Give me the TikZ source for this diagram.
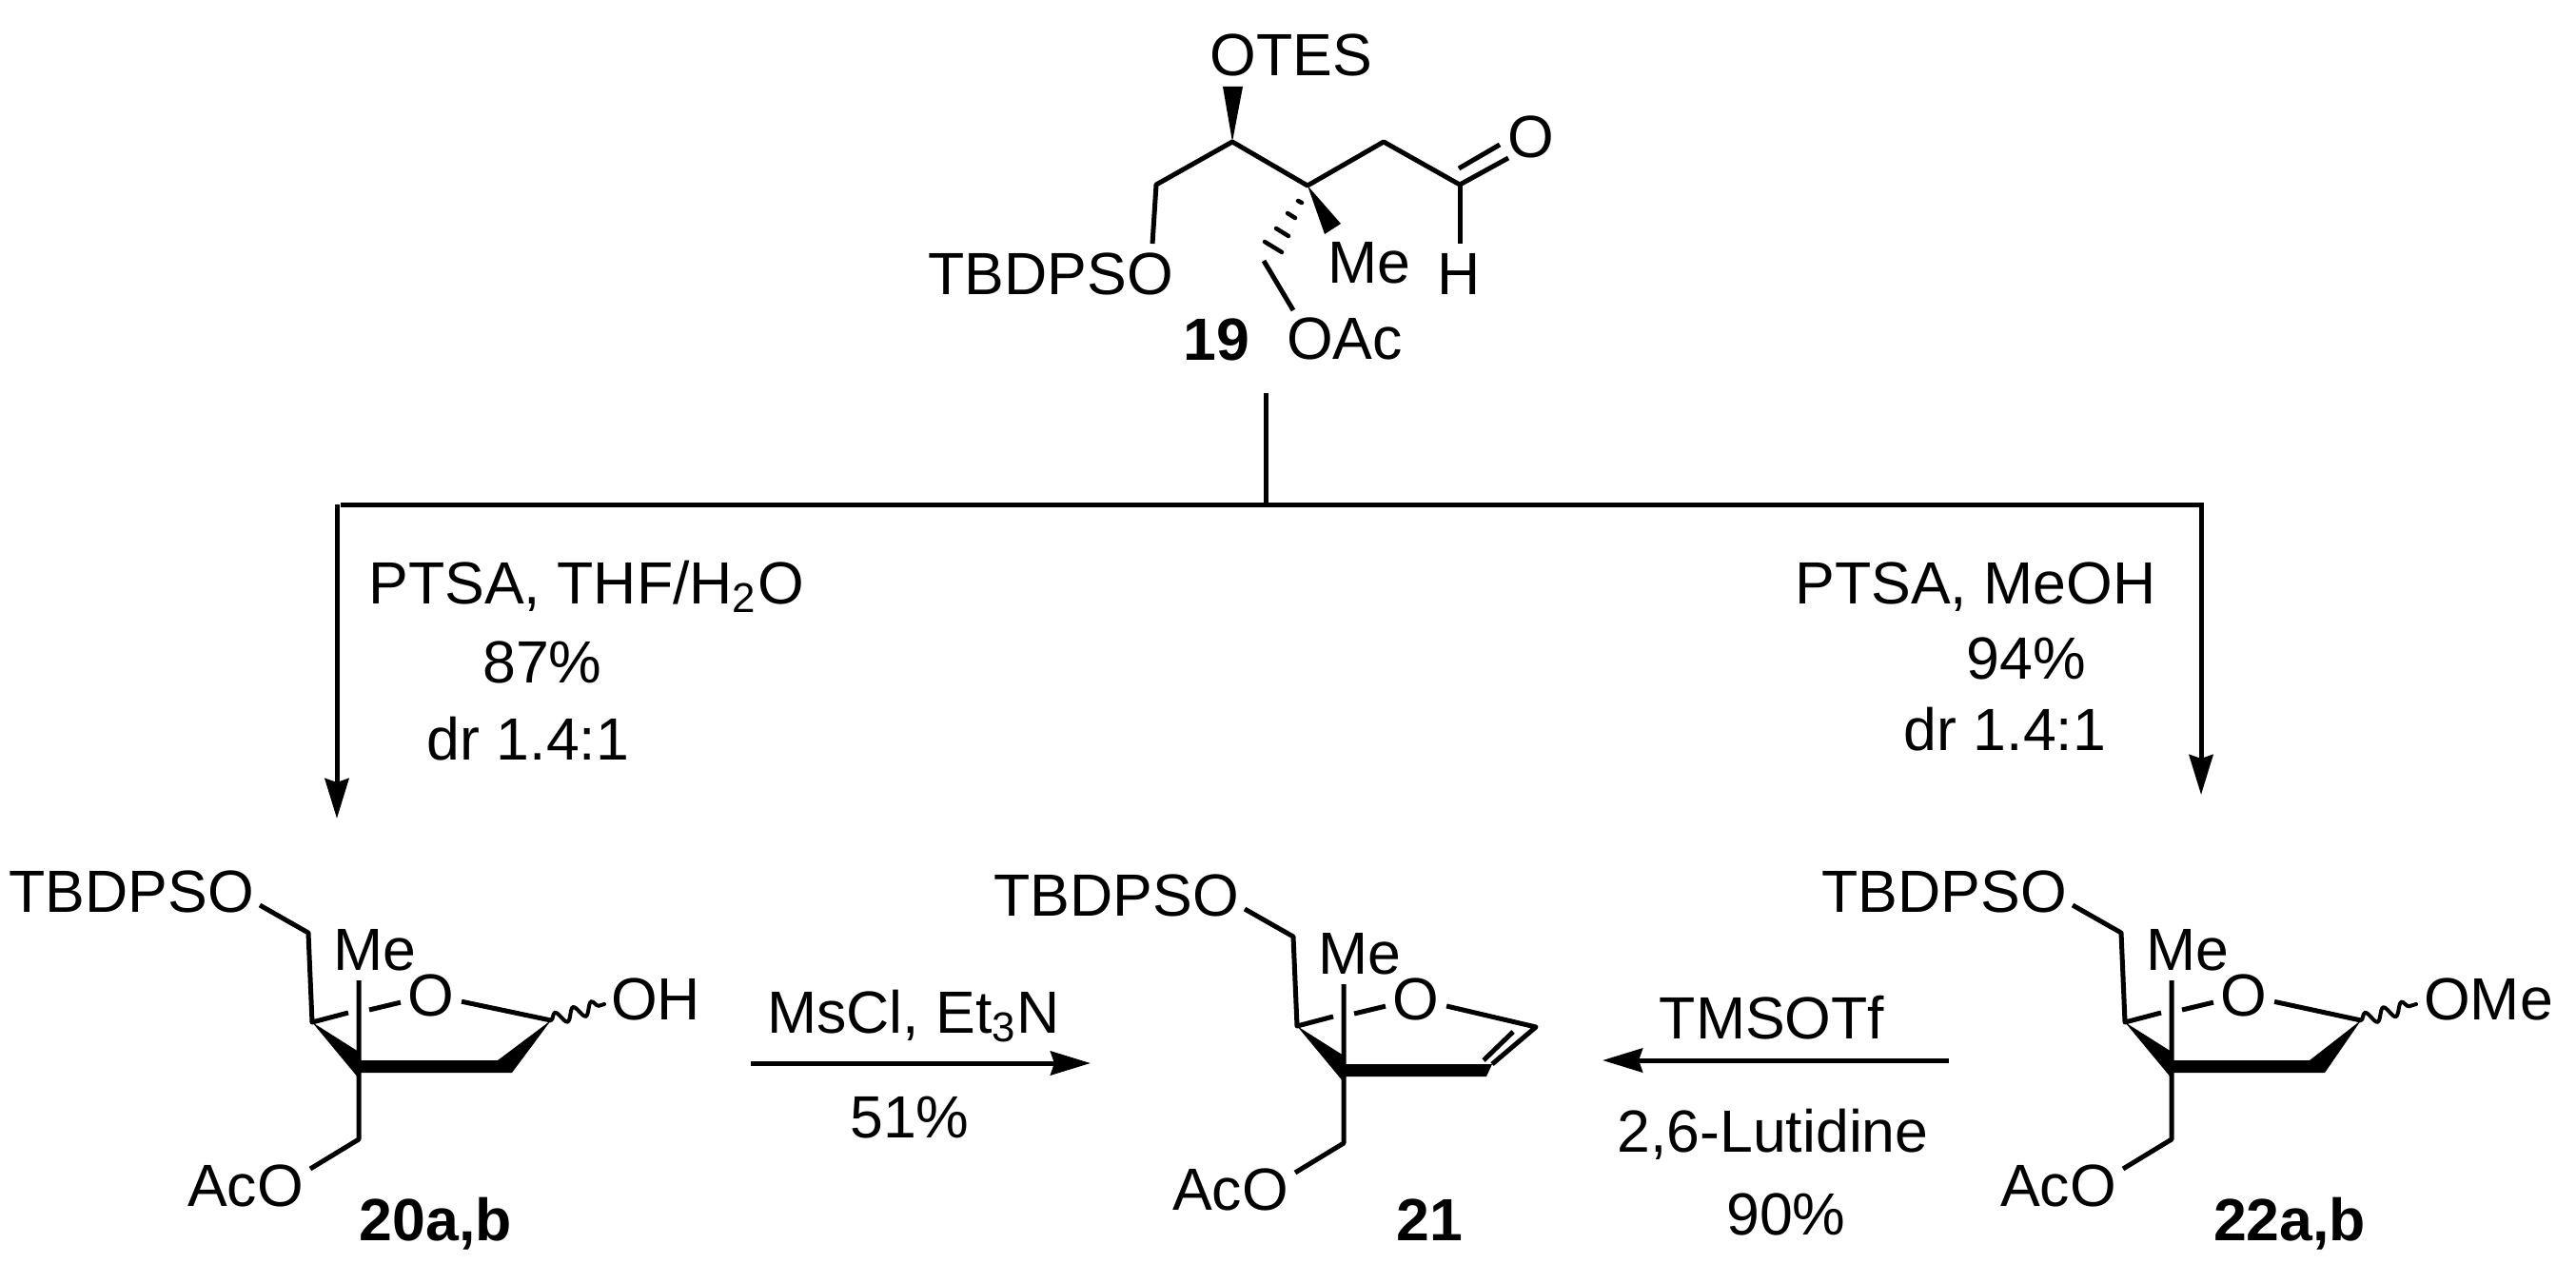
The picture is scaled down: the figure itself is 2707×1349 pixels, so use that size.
\documentclass[tikz,border=0pt]{standalone}
\usepackage{fontspec}
\setmainfont{Liberation Sans}
\usetikzlibrary{arrows.meta,decorations.pathmorphing}

% tetrahydrofuran part shared by the three products
\newcommand{\sugar}[2]{%
\begin{scope}[shift={#1}, name prefix=#2-]
\node (si)  [atom] at (-239,-169) {TBDPSO};
\node (me)  [atom] at (17,-108)   {Me};
\node (o)   [atom] at (76,-60)    {O};
\node (aco) [atom] at (-119,140)  {AcO};
\coordinate (qc)  at (0,0);
\coordinate (sie) at (-104,-176);
\coordinate (c5)  at (-53,-147);
\coordinate (cl)  at (-49,-53);
\coordinate (g1)  at (-11,-63);
\coordinate (g2)  at (11,-66);
\coordinate (met) at (0,-97);
\coordinate (c6)  at (0,70);
\coordinate (ace) at (-51,101);
\coordinate (wt)  at (0,-22);
\coordinate (wb)  at (0,6);
\draw[bond] (sie) -- (c5) -- (cl) -- (g1);
\draw[bond] (g2) -- (o);
\draw[bond] (met) -- (c6) -- (ace);
\fill (cl) -- (wt) -- (wb) -- cycle;
\end{scope}}

\begin{document}
\begin{tikzpicture}[
     x=0.01cm, y=-0.01cm,
every node/.style = {font=\fontsize{17.8}{20}\selectfont},
      atom/.style = {anchor=base, inner sep=0.07cm},
       cpd/.style = {anchor=base, inner sep=0pt, font=\fontsize{17.8}{20}\selectfont\bfseries},
      cond/.style = {anchor=base, inner sep=0pt},
      bond/.style = {line width=0.05cm, line join=round},
       rxn/.style = {line width=0.05cm, -{Stealth[length=0.42cm,width=0.25cm,inset=0.04cm]}},
      wavy/.style = {line width=0.04cm, line cap=round, decorate, decoration={snake, amplitude=0.065cm, segment length=0.2cm}}
                        ]
\useasboundingbox (0,0) rectangle (2707,1349);

% aldehyde 19
\node (otes) [atom] at (1357,80)  {OTES};
\node (si)   [atom] at (1104,310) {TBDPSO};
\node (ome)  [atom] at (1439,298) {Me};
\node (ald)  [atom] at (1609,166) {O};
\node (h)    [atom] at (1533,310) {H};
\node (oac)  [atom] at (1413,377) {OAc};
\node (n19)  [cpd] at (1278,378) {19};
\coordinate (c4)  at (1295,149);
\coordinate (c5)  at (1215,194);
\coordinate (sie) at (1211,256);
\coordinate (c3)  at (1374,195);
\coordinate (c2)  at (1454,149);
\coordinate (c1)  at (1534,194);
\coordinate (oe)  at (1585,166);
\coordinate (di1) at (1533,177);
\coordinate (di2) at (1576,152);
\coordinate (he)  at (1534,256);
\coordinate (ch1) at (1328,274);
\coordinate (ch2) at (1359,326);
\coordinate (w1)  at (1285,91);
\coordinate (w2)  at (1306,91);
\coordinate (w3)  at (1392,246);
\coordinate (w4)  at (1409,235);
\draw[bond] (sie) -- (c5) -- (c4) -- (c3) -- (c2) -- (c1) -- (oe);
\draw[bond] (di1) -- (di2);
\draw[bond] (c1) -- (he);
\draw[bond] (ch1) -- (ch2);
\fill (c4) -- (w1) -- (w2) -- cycle;
\fill (c3) -- (w3) -- (w4) -- cycle;
\foreach \a/\b/\c/\d in {1329/254/1347/265, 1341/240/1354/248, 1353/224/1361/229, 1364/211/1368/213}
  \draw[line width=0.045cm, line cap=round] (\a,\b) -- (\c,\d);

% split into two routes
\coordinate (ttop)  at (1330,413);
\coordinate (tmid)  at (1330,530);
\coordinate (tleft) at (358,530);
\coordinate (tdown) at (354,530);
\coordinate (tright) at (2313,530);
\coordinate (a20)  at (354,860);
\coordinate (a22)  at (2313,835);
\draw[bond] (ttop) -- (tmid);
\draw[bond] (tmid) -- (tleft);
\draw[rxn] (tdown) -- (a20);
\draw[rxn] (tmid) -- (tright) -- (a22);
\node (c1a) [cond] at (616,634)  {PTSA, THF/H\textsubscript{2}O};
\node (c1b) [cond] at (570,717)  {87\%};
\node (c1c) [cond] at (555,798)  {dr 1.4:1};
\node (c2a) [cond] at (2076,634) {PTSA, MeOH};
\node (c2b) [cond] at (2129,713) {94\%};
\node (c2c) [cond] at (2107,788) {dr 1.4:1};

% lactols 20a,b
\sugar{(377,1127)}{a}
\node (oh)  [atom] at (689,1071) {OH};
\node (n20) [cpd] at (458,1303) {20a,b};
\coordinate (a1) at (579,1072);
\coordinate (a2) at (523,1114);
\coordinate (a3) at (538,1127);
\coordinate (a4) at (635,1055);
\draw[bond] (a-o) -- (a1);
\fill (a-qc) ++(0,-13) -- (a2) -- (a1) -- (a3) -- (a-qc) -- cycle;
\draw[wavy] (a1) -- (a4);

% glycal 21
\sugar{(1412,1131)}{b}
\node (n21) [cpd] at (1502,1303) {21};
\coordinate (b1) at (1614,1079);
\coordinate (b2) at (1568,1118);
\coordinate (b3) at (1562,1131);
\coordinate (b4) at (1590,1084);
\coordinate (b5) at (1559,1114);
\draw[bond] (b-o) -- (b1) -- (b2);
\draw[bond] (b4) -- (b5);
\fill (b-qc) ++(0,-13) -- (b2) -- (b3) -- (b-qc) -- cycle;

% methyl acetals 22a,b
\sugar{(2282,1127)}{c}
\node (ome2) [atom] at (2615,1071) {OMe};
\node (n22)  [cpd] at (2406,1303) {22a,b};
\coordinate (d1) at (2481,1072);
\coordinate (d2) at (2427,1114);
\coordinate (d3) at (2443,1127);
\coordinate (d4) at (2539,1055);
\draw[bond] (c-o) -- (d1);
\fill (c-qc) ++(0,-13) -- (d2) -- (d1) -- (d3) -- (c-qc) -- cycle;
\draw[wavy] (d1) -- (d4);

% horizontal steps
\coordinate (s1) at (789,1117);
\coordinate (s2) at (1146,1117);
\coordinate (s3) at (2048,1114);
\coordinate (s4) at (1684,1114);
\draw[rxn] (s1) -- (s2);
\draw[rxn] (s3) -- (s4);
\node (ms)  [cond] at (960,1085)  {MsCl, Et\textsubscript{3}N};
\node (y51) [cond] at (956,1195)  {51\%};
\node (tms) [cond] at (1862,1091) {TMSOTf};
\node (lut) [cond] at (1863,1210) {2,6-Lutidine};
\node (y90) [cond] at (1877,1297) {90\%};
\end{tikzpicture}
\end{document}
